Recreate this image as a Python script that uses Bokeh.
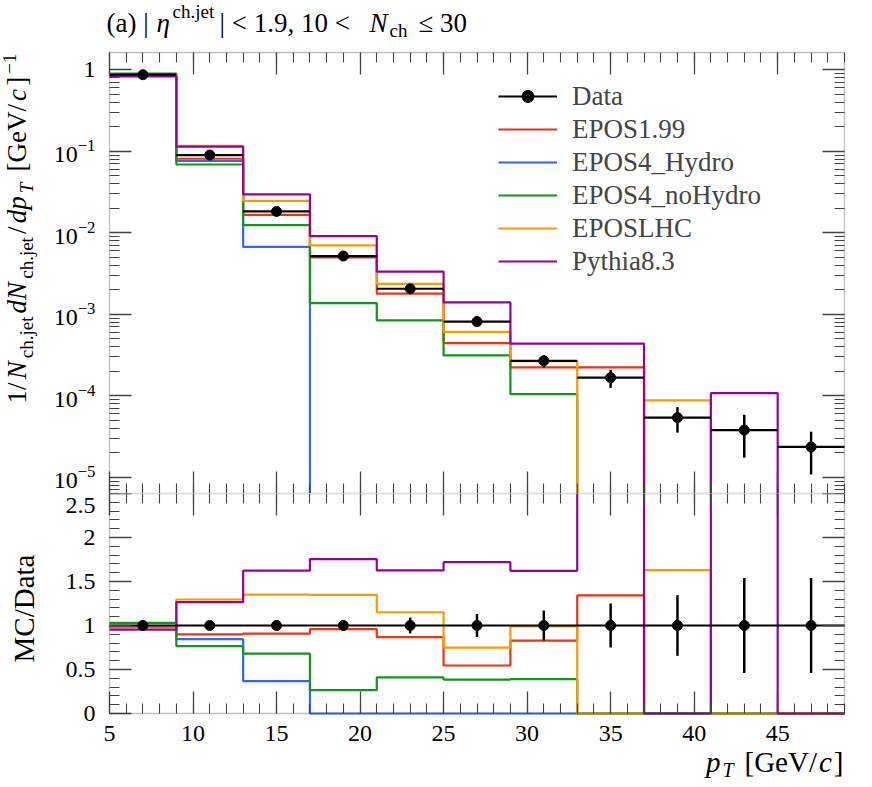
import math
import numpy as np
from bokeh.plotting import figure
from bokeh.layouts import column
from bokeh.models import (Range1d, FixedTicker, LinearAxis, LogAxis, Label, Legend,
                          LegendItem, LogTickFormatter, Grid, BoxAnnotation)
from bokeh.embed import file_html
from bokeh.resources import INLINE

# ---------------- data ----------------
bin_edges = [5, 9, 13, 17, 21, 25, 29, 33, 37, 41, 45, 49]
bin_centers = [7, 11, 15, 19, 23, 27, 31, 35, 39, 43, 47]
data_vals = [0.87, 0.090, 0.0183, 0.00519, 0.00206, 8.14e-4, 2.69e-4, 1.67e-4, 5.4e-5, 3.8e-5, 2.36e-5]
data_relerr = [0.01, 0.015, 0.025, 0.06, 0.09, 0.13, 0.17, 0.25, 0.345, 0.54, 0.54]
epos199 = [0.853, 0.081, 0.0166, 0.00498, 0.00179, 4.44e-4, 2.23e-4, 2.24e-4, 0, 0, 0]
epos4_hydro = [0.861, 0.076, 0.00672, 0, 0, 0, 0, 0, 0, 0, 0]
epos4_nohydro = [0.896, 0.0689, 0.01244, 0.001375, 0.000845, 3.13e-4, 1.05e-4, 0, 0, 0, 0]
eposlhc = [0.861, 0.1166, 0.0247, 0.0070, 0.00237, 6.1e-4, 2.66e-4, 0, 8.8e-5, 0, 0]
pythia83 = [0.83, 0.114, 0.0297, 0.00911, 0.00335, 1.40e-3, 4.36e-4, 4.38e-4, 0, 1.08e-4, 0]
mc_series = [epos199, epos4_hydro, epos4_nohydro, eposlhc, pythia83]
mc_labels = ["EPOS1.99", "EPOS4_Hydro", "EPOS4_noHydro", "EPOSLHC", "Pythia8.3"]
mc_colors = ["#EE3311", "#3366FF", "#109618", "#FF9900", "#990099"]
x_ticks = [5, 10, 15, 20, 25, 30, 35, 40, 45]
log_ticks = [1e-5, 1e-4, 1e-3, 1e-2, 1e-1, 1]
ratio_ticks = [0, 0.5, 1, 1.5, 2]
ratio_tick_labels = ["0", "0.5", "1", "1.5", "2"]
ratio_top_tick = 2.5
ratio_top_label = "2.5"

# ---------------- layout geometry (page pixels) ----------------
FONT = "Liberation Serif"
W, H = 872, 787
FL, FR, FT, FM, FB = 109, 844, 52, 493, 713
X0, X1 = 5, 49
LOGT, LOGB = 0.212, -5.198
RMAX = 2.5
FLOOR = 1e-9  # where zero-valued bins are drawn on the log panel (below the panel)
FRAME_COL = "#333333"
TICK_COL = "#444444"
RAT_H = H - FM - 2
BL = 0.33  # anchor correction (in em) between the label anchor and the text baseline

# the plotting frame covers each whole canvas; the panel boxes sit inside it
PXU = (FR - FL) / (X1 - X0)
XS = X0 - FL / PXU
XE = X1 + (W - FR) / PXU
PXD = (FM - FT) / (LOGT - LOGB)
LOG_END = LOGT + FT / PXD
PXR = (FB - FM) / RMAX
R_START = -(RAT_H - (FB - FM)) / PXR

xr = Range1d(XS, XE)
top = figure(width=W, height=FM, x_range=xr,
             y_range=Range1d(10 ** LOGB, 10 ** LOG_END), y_axis_type="log",
             x_axis_location=None, y_axis_location=None,
             min_border_left=0, min_border_right=0, min_border_top=0, min_border_bottom=0,
             output_backend="svg", toolbar_location=None)
rat = figure(width=W, height=RAT_H, x_range=xr, y_range=Range1d(R_START, RMAX),
             x_axis_location=None, y_axis_location=None,
             min_border_left=0, min_border_right=0, min_border_top=0, min_border_bottom=0,
             output_backend="svg", toolbar_location=None)

for f in (top, rat):
    f.center = [c for c in f.center if not isinstance(c, Grid)]
    f.outline_line_color = None
    f.outline_line_alpha = 0
    f.background_fill_color = "white"
    f.border_fill_color = "white"


def style_axis(ax, labels, standoff=12):
    ax.axis_line_color = None
    ax.major_tick_in = 22
    ax.major_tick_out = 0
    ax.minor_tick_in = 10
    ax.minor_tick_out = 0
    ax.major_tick_line_color = TICK_COL
    ax.minor_tick_line_color = TICK_COL
    ax.major_tick_line_width = 1.3
    ax.minor_tick_line_width = 1.1
    if labels:
        ax.major_label_text_font = FONT
        ax.major_label_text_font_size = "24px"
        ax.major_label_text_color = "black"
        ax.major_label_standoff = standoff
    else:
        ax.major_label_text_font_size = "1px"
        ax.major_label_text_color = None
        ax.major_label_standoff = 0
    return ax


x_minor = list(range(X0, X1 + 1))
log_minor = [m * 10.0 ** k for k in range(-6, 1) for m in range(2, 10)
             if LOGB <= math.log10(m * 10.0 ** k) <= LOGT]
ratio_minor = [i / 10 for i in range(0, 26)]

# top panel axes (fixed onto the panel edges)
top.add_layout(style_axis(LogAxis(ticker=FixedTicker(ticks=log_ticks, minor_ticks=log_minor),
                                  formatter=LogTickFormatter(), fixed_location=X0,
                                  major_label_overrides={1: "1"}), True, 14), "left")
top.add_layout(style_axis(LogAxis(ticker=FixedTicker(ticks=log_ticks, minor_ticks=log_minor),
                                  fixed_location=X1), False), "right")
top.add_layout(style_axis(LinearAxis(ticker=FixedTicker(ticks=x_ticks, minor_ticks=x_minor),
                                     fixed_location=10 ** LOGT), False), "above")
top.add_layout(style_axis(LinearAxis(ticker=FixedTicker(ticks=x_ticks, minor_ticks=x_minor),
                                     fixed_location=10 ** LOGB), False), "below")

# ratio panel axes
rat.add_layout(style_axis(LinearAxis(ticker=FixedTicker(ticks=ratio_ticks, minor_ticks=ratio_minor),
                                     fixed_location=X0,
                                     major_label_overrides=dict(zip(ratio_ticks, ratio_tick_labels))),
                          True, 14), "left")
rat.add_layout(style_axis(LinearAxis(ticker=FixedTicker(ticks=[ratio_top_tick], minor_ticks=[]),
                                     fixed_location=X0), False), "left")
rat.add_layout(style_axis(LinearAxis(ticker=FixedTicker(ticks=ratio_ticks + [ratio_top_tick],
                                                        minor_ticks=ratio_minor),
                                     fixed_location=X1), False), "right")
rat.add_layout(style_axis(LinearAxis(ticker=FixedTicker(ticks=x_ticks, minor_ticks=x_minor),
                                     fixed_location=RMAX), False), "above")
rat.add_layout(style_axis(LinearAxis(ticker=FixedTicker(ticks=x_ticks, minor_ticks=x_minor),
                                     fixed_location=0), True, 12), "below")

# ---------------- MC histograms ----------------
data_arr = np.array(data_vals)
mc_renderers = []
for vals, lab, col in zip(mc_series, mc_labels, mc_colors):
    v = np.array(vals, dtype=float)
    vplot = np.where(v > 0, v, FLOOR)
    r = top.step(x=bin_edges, y=list(vplot) + [vplot[-1]], mode="after",
                 line_color=col, line_width=2.2)
    ratio = v / data_arr
    rat.step(x=bin_edges, y=list(ratio) + [ratio[-1]], mode="after",
             line_color=col, line_width=2.2)
    mc_renderers.append((lab, r))

# ---------------- data ----------------
relerr = np.array(data_relerr)
lo = data_arr * (1 - relerr)
hi = data_arr * (1 + relerr)
r_hbar = top.segment(x0=bin_edges[:-1], x1=bin_edges[1:], y0=data_vals, y1=data_vals,
                     line_color="black", line_width=2.2)
r_vbar = top.segment(x0=bin_centers, x1=bin_centers, y0=list(lo), y1=list(hi),
                     line_color="black", line_width=2.5)
r_pt = top.scatter(x=bin_centers, y=data_vals, marker="circle", size=10,
                   fill_color="black", line_color="black")
# zero-size cross: draws nothing on the plot, gives the legend its vertical error bar
r_cross = top.scatter(x=bin_centers, y=data_vals, marker="cross", size=0,
                      line_color="black", line_width=2.5)

ones = [1.0] * len(bin_centers)
rat.segment(x0=bin_edges[:-1], x1=bin_edges[1:], y0=ones, y1=ones,
            line_color="black", line_width=2.2)
rat.segment(x0=bin_centers, x1=bin_centers, y0=list(1 - relerr), y1=list(1 + relerr),
            line_color="black", line_width=2.5)
rat.scatter(x=bin_centers, y=ones, marker="circle", size=10,
            fill_color="black", line_color="black")

# panel frames
top.add_layout(BoxAnnotation(left=X0, right=X1, bottom=10 ** LOGB, top=10 ** LOGT,
                             fill_alpha=0, line_color=FRAME_COL, line_width=1.3))
rat.add_layout(BoxAnnotation(left=X0, right=X1, bottom=0, top=RMAX,
                             fill_alpha=0, line_color=FRAME_COL, line_width=1.3))

legend_items = [LegendItem(label="Data", renderers=[r_hbar, r_cross, r_pt])]
for lab, r in mc_renderers:
    legend_items.append(LegendItem(label=lab, renderers=[r]))

legend = Legend(items=legend_items, location=(498, FM - 276.5),
                border_line_color=None, background_fill_alpha=0,
                padding=0, margin=0, spacing=2, glyph_width=59, glyph_height=30,
                label_height=30, label_standoff=15,
                label_text_font=FONT, label_text_font_size="27px")
top.add_layout(legend)

# ---------------- composed texts (canvas pixel units, y from top) ----------------
TIMES_R = {' ': 250, '(': 333, ')': 333, 'a': 444, '|': 200, '<': 564, '1': 500, '.': 250,
           '9': 500, ',': 250, '0': 500, '3': 500, 'c': 444, 'h': 500, 'j': 278, 'e': 444,
           't': 278, 'M': 889, 'C': 667, '/': 278, 'D': 722, 'G': 722, 'V': 722, '[': 333,
           ']': 333, '\u2212': 564, '\u2264': 549, 'T': 611, 'N': 722, 'd': 500, 'p': 500}
TIMES_I = {'N': 667, 'd': 500, 'p': 500, 'c': 444, 'T': 556, '\u03b7': 500}


def twidth(text, italic, size):
    tab = TIMES_I if italic else TIMES_R
    return sum(tab.get(ch, 500) for ch in text) * size / 1000.0


CANVAS_TOP = {id(top): 0, id(rat): FM}


def add_label(fig, px, py, text, size, italic=False, angle=0.0, align="left",
              baseline="alphabetic"):
    fig.add_layout(Label(x=px, y=py - CANVAS_TOP[id(fig)], x_units="canvas", y_units="canvas",
                         text=text, text_font=FONT,
                         text_font_size=f"{size}px",
                         text_font_style="italic" if italic else "normal",
                         text_color="black", angle=angle, text_align=align,
                         text_baseline=baseline))


# title: (a) |eta^{ch.jet}| < 1.9, 10 < N_ch <= 30   (baseline at y = 31.5)
BASE = 31.5
title_pieces = [("(a) |", False, 27, 106, 0), ("\u03b7", True, 27, 156, 0),
                ("ch.jet", False, 19, 172, -14.5), ("| < 1.9, 10 <", False, 27, 219, 0),
                ("N", True, 27, 369, 0), ("ch", False, 19, 389, 5),
                ("\u2264 30", False, 27, 418, 0)]
for text, it, size, px, dy in title_pieces:
    add_label(top, px, BASE + dy - BL * size, text, size, it)

# y label of the main panel (rotated, read bottom -> top), baseline at x = 25
ylab = [("1/", False, 27, 0), ("N", True, 27, 0), ("ch.jet", False, 19, 7),
        ("dN", True, 27, 0), ("ch.jet", False, 19, 7), ("/", False, 27, 0),
        ("dp", True, 27, 0), ("T", True, 19, 7), ("[GeV/", False, 27, 0),
        ("c", True, 27, 0), ("]", False, 27, 0), ("\u22121", False, 19, -10)]
Y_START, Y_END, XBASE = 403, 53, 25
ws = [twidth(t, it, s) for t, it, s, _ in ylab]
space = 8
gap = max(0.0, ((Y_START - Y_END) - sum(ws) - space) / (len(ylab) - 1))
pos = Y_START
for (t, it, s, dx), w in zip(ylab, ws):
    if t.startswith("["):
        pos -= space
    add_label(top, XBASE + dx - BL * s, pos, t, s, it, angle=math.pi / 2)
    pos -= w + gap

# ratio y label (baseline x = 33) and the top ratio tick label
add_label(rat, 33 - BL * 29, 608, "MC/Data", 29, False, angle=math.pi / 2, align="center")
add_label(rat, FL - 14, FM + 4, ratio_top_label, 24, False, align="right", baseline="top")

# x label: p_T [GeV/c], right-aligned to the frame, baseline y = 771
xlab = [("p", True, 29, 0), ("T", True, 20, 5), ("[GeV/", False, 29, 0),
        ("c", True, 29, 0), ("]", False, 29, 0)]
XL_END, XL_BASE = 843, 771
wx = [twidth(t, it, s) for t, it, s, _ in xlab]
xspace = 9
total = sum(wx) + xspace + 2 * (len(xlab) - 1)
pos = XL_END - total
for (t, it, s, dy), w in zip(xlab, wx):
    if t.startswith("["):
        pos += xspace
    add_label(rat, pos, XL_BASE + dy - BL * s, t, s, it)
    pos += w + 2

layout = column(top, rat)
open("out.html", "w").write(file_html(layout, INLINE))
